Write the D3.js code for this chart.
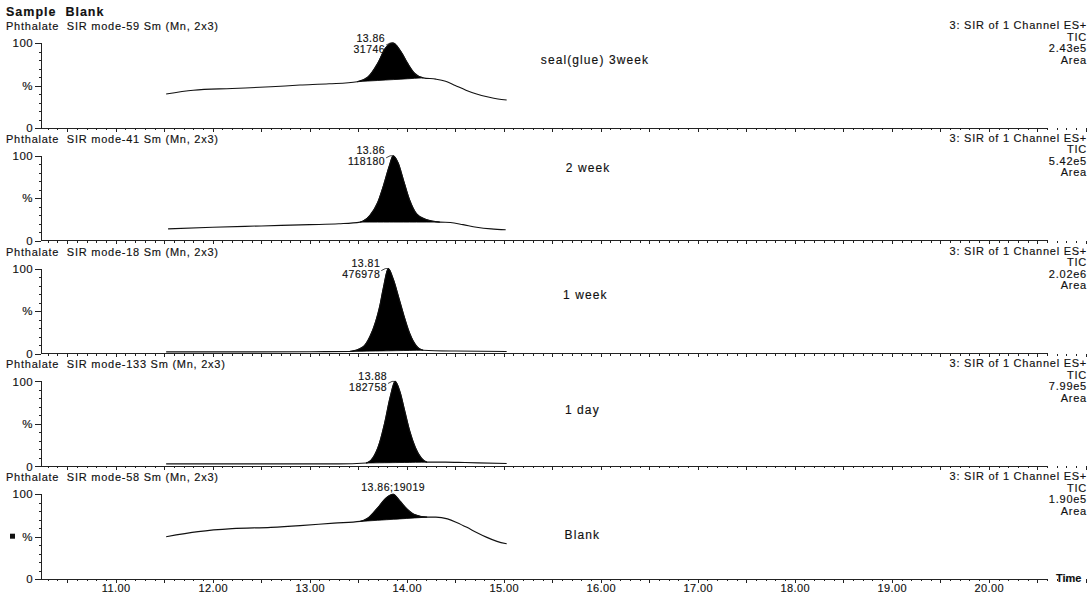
<!DOCTYPE html>
<html lang="en">
<head>
  <meta charset="UTF-8">
  <title>Sample Blank - Phthalate SIR</title>
  <style>
    body { margin: 0; background: #fff; }
    svg text { font-family: "Liberation Sans", Arial, sans-serif; fill: #111; stroke: #111; stroke-width: 0.15px; }
    .trace { fill: none; stroke: #111; stroke-width: 1.1; }
    .peak { fill: #000; stroke: #000; stroke-width: 0.8; }
    .axis path, .axis line { stroke: #222; shape-rendering: crispEdges; }
    .axis text { font-size: 11px; letter-spacing: 0.4px; }
  </style>
</head>
<body>
<svg id="chart" width="1092" height="595"></svg>

<script src="https://d3js.org/d3.v7.min.js"></script>
<script>
  // chromatogram traces: [retention time (min), relative intensity (%)]
  const seal3week = [[11.52,40],[11.80,44.5],[12.20,46.5],[12.60,48.5],[12.90,50.5],[13.20,52],[13.49,54.5],
    [13.60,60],[13.70,76],[13.78,94],[13.86,100],[13.94,90],[14.01,76],[14.08,64.5],[14.17,59],
    [14.30,57.5],[14.40,55],[14.50,50],[14.61,44.5],[14.72,40],[14.84,36.5],[14.94,34.2],[15.03,33]];
  const week2 = [[11.54,14],[12.00,16],[12.50,17.5],[13.00,19],[13.30,20],[13.52,22],[13.62,30],[13.70,45],
    [13.76,65],[13.82,88],[13.86,100],[13.91,92],[13.97,70],[14.03,48],[14.10,32],[14.20,25],[14.34,22],
    [14.45,21.5],[14.58,19],[14.72,16],[14.87,14],[15.02,13]];
  const week1 = [[11.52,2],[12.00,2],[13.00,2.2],[13.41,2.5],[13.55,8],[13.62,20],[13.68,38],[13.72,55],
    [13.76,78],[13.81,100],[13.86,88],[13.92,65],[13.97,45],[14.03,24],[14.10,9],[14.17,4],[14.50,3],[15.03,2.5]];
  const day1 = [[11.52,3],[12.50,3],[13.30,3],[13.58,4],[13.65,10],[13.72,28],[13.77,50],[13.83,82],
    [13.88,100],[13.93,88],[13.98,65],[14.03,42],[14.09,22],[14.15,10],[14.21,5],[14.40,5],[14.60,4.5],[15.03,3.5]];
  const blank = [[11.52,50],[11.85,56],[12.20,59.5],[12.60,61],[12.90,63],[13.25,66],[13.52,68],[13.60,72],
    [13.70,84],[13.79,96],[13.86,100],[13.93,92],[14.00,83],[14.08,76],[14.21,73],[14.30,73],[14.42,71],
    [14.52,66.5],[14.62,61],[14.72,55],[14.82,49.5],[14.93,44.5],[15.03,41.6]];

  const traces = [seal3week, week2, week1, day1, blank];
  const titles = ['Phthalate  SIR mode-59 Sm (Mn, 2x3)', 'Phthalate  SIR mode-41 Sm (Mn, 2x3)',
    'Phthalate  SIR mode-18 Sm (Mn, 2x3)', 'Phthalate  SIR mode-133 Sm (Mn, 2x3)', 'Phthalate  SIR mode-58 Sm (Mn, 2x3)'];
  const channelText = '3: SIR of 1 Channel ES+';
  const ticText = 'TIC';
  const maxIntensity = ['2.43e5', '5.42e5', '2.02e6', '7.99e5', '1.90e5'];
  const peakRT = ['13.86', '13.86', '13.81', '13.88', '13.86'];
  const peakArea = ['31746', '118180', '476978', '182758', '19019'];
  const peakInline = [false, false, false, false, true];
  const peakRange = [[13.49,14.17],[13.52,14.34],[13.41,14.17],[13.58,14.21],[13.52,14.21]];
  const notes = ['seal(glue) 3week', '2 week', '1 week', '1 day', 'Blank'];
  const noteAt = [[15.94,80],[15.87,86],[15.84,69],[15.81,66],[15.81,52]];
  const timeTicks = [11, 12, 13, 14, 15, 16, 17, 18, 19, 20];

  const svg = d3.select('#chart');
  const axisLeft = 41, axisRight = 1048;
  const firstTop = 43, panelStep = 112.8, panelH = 85;

  const x = d3.scaleLinear().domain([10.23, 20.61]).range([axisLeft, axisRight]);

  svg.append('text')
    .attr('x', 6).attr('y', 16)
    .style('font-size', '12.5px').style('font-weight', 'bold').style('letter-spacing', '1px')
    .style('white-space', 'pre')
    .text('Sample  Blank');

  const minorTimes = d3.range(103, 2061).map(v => v / 10);

  traces.forEach((data, i) => {
    const top = firstTop + i * panelStep;
    const y = d3.scaleLinear().domain([0, 100]).range([top + panelH, top]);
    const g = svg.append('g');

    // headers
    g.append('text').attr('x', 6).attr('y', top - 13)
      .style('font-size', '11px').style('letter-spacing', '0.75px').style('white-space', 'pre')
      .text(titles[i]);
    [channelText, ticText, maxIntensity[i], 'Area'].forEach((t, k) => {
      g.append('text').attr('x', 1087).attr('y', top - 14 + k * 11.5)
        .attr('text-anchor', 'end')
        .style('font-size', '11px').style('letter-spacing', '0.75px')
        .text(t);
    });

    // x axis (minor ticks every 0.1 min, taller each 0.5 min)
    const xAxis = g.append('g').attr('class', 'axis')
      .attr('transform', `translate(0,${y(0)})`)
      .call(d3.axisBottom(x).tickValues(minorTimes).tickSize(2).tickFormat(''));
    xAxis.selectAll('.tick line')
      .attr('y2', d => (Math.round(d * 10) % 5 === 0 ? 3.5 : 2));
    xAxis.select('.domain').attr('d', `M${axisLeft},0H${axisRight}`);

    if (i === traces.length - 1) {
      const lab = g.append('g').attr('class', 'axis')
        .attr('transform', `translate(0,${y(0)})`)
        .call(d3.axisBottom(x).tickValues(timeTicks).tickSize(0).tickPadding(5).tickFormat(d3.format('.2f')));
      lab.select('.domain').remove();
      g.append('text').attr('x', 1056).attr('y', y(0) + 3)
        .style('font-size', '11px').style('font-weight', 'bold')
        .text('Time');
    }

    // y axis
    const yMinor = g.append('g').attr('class', 'axis')
      .attr('transform', `translate(${axisLeft},0)`)
      .call(d3.axisLeft(y).tickValues(d3.range(0, 101, 10)).tickSize(2).tickFormat(''));
    yMinor.select('.domain').attr('d', `M0,${y(0)}V${y(100)}`);
    g.append('g').attr('class', 'axis')
      .attr('transform', `translate(${axisLeft},0)`)
      .call(d3.axisLeft(y).tickValues([0, 50, 100]).tickSize(6).tickPadding(2)
        .tickFormat(d => (d === 50 ? '%' : d)))
      .call(s => s.select('.domain').remove())
      .selectAll('text').style('font-size', '11.5px');

    // integrated peak fill
    const [a, b] = peakRange[i];
    const segment = data.filter(d => d[0] >= a && d[0] <= b);
    const base = d3.scaleLinear().domain([a, b])
      .range([segment[0][1], segment[segment.length - 1][1]]);
    g.append('path').datum(segment).attr('class', 'peak')
      .attr('d', d3.area().curve(d3.curveMonotoneX)
        .x(d => x(d[0])).y0(d => y(base(d[0]))).y1(d => y(d[1])));

    // trace
    g.append('path').datum(data).attr('class', 'trace')
      .attr('d', d3.line().curve(d3.curveMonotoneX).x(d => x(d[0])).y(d => y(d[1])));

    // peak label
    const apex = data.reduce((m, d) => (d[1] > m[1] ? d : m));
    const ax = x(apex[0]), ay = y(apex[1]);
    if (peakInline[i]) {
      g.append('text').attr('x', ax).attr('y', ay - 3).attr('text-anchor', 'middle')
        .style('font-size', '10.5px').style('letter-spacing', '0.5px')
        .text(peakRT[i] + ';' + peakArea[i]);
    } else {
      g.append('text').attr('x', ax - 8).attr('y', ay - 1.5).attr('text-anchor', 'end')
        .style('font-size', '10.5px').style('letter-spacing', '0.5px').text(peakRT[i]);
      g.append('text').attr('x', ax - 8).attr('y', ay + 9.5).attr('text-anchor', 'end')
        .style('font-size', '10.5px').style('letter-spacing', '0.5px').text(peakArea[i]);
      g.append('path').attr('d', `M${ax - 7},${ay + 2}L${ax - 3},${ay}H${ax}`)
        .attr('fill', 'none').attr('stroke', '#111').attr('stroke-width', 0.8);
    }

    // sample note
    g.append('text').attr('x', x(noteAt[i][0])).attr('y', y(noteAt[i][1]) + 4)
      .attr('text-anchor', 'middle')
      .style('font-size', '12px').style('letter-spacing', '1.1px')
      .text(notes[i]);

    if (i === traces.length - 1) {
      g.append('rect').attr('x', 10).attr('y', y(50) - 3).attr('width', 5).attr('height', 5).attr('fill', '#111');
    }
  });
</script>
</body>
</html>
